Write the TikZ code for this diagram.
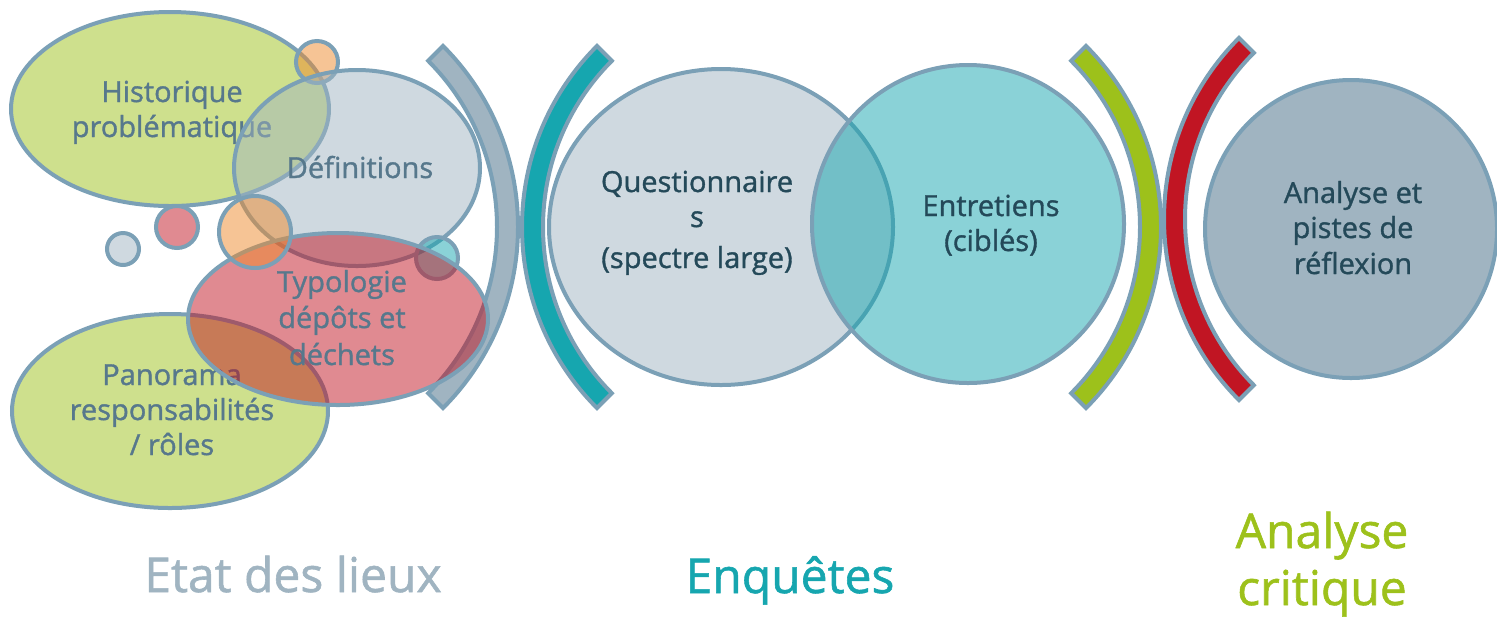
\documentclass[tikz,border=0pt]{standalone}
\usepackage{fontspec}
\setmainfont{Open Sans}[FakeBold=1.2]
\begin{document}
\definecolor{edge}{HTML}{7BA0B6}
\definecolor{slate}{HTML}{A0B4C1}
\definecolor{teal}{HTML}{16A6AF}
\definecolor{lime}{HTML}{9DC11B}
\definecolor{crimson}{HTML}{C11523}
\definecolor{peach}{HTML}{EE8A2C}
\definecolor{txtdark}{HTML}{244959}
\definecolor{txtsoft}{HTML}{57788C}
\begin{tikzpicture}[x=0.5pt,y=0.5pt,
  outl/.style={draw=edge,line width=2pt},
  band/.style={outl,line join=miter},
  see/.style={outl,fill opacity=0.5},
  txtbase/.style={anchor=base,inner sep=0pt,font=\fontsize{14.5}{17.5}\selectfont},
  soft/.style={txtbase,text=txtsoft},
  dark/.style={txtbase,text=txtdark},
  phasetitle/.style={anchor=base,inner sep=0pt,font=\fontsize{24}{28}\selectfont}]
\useasboundingbox (0,0) rectangle (1497,-618);

% curved separators
\draw[band,fill=slate,shift={(262,-227)}] (45:256) arc[start angle=45,end angle=-45,radius=256]
  -- (-45:235) arc[start angle=-45,end angle=45,radius=235] -- cycle;
\draw[band,fill=teal,shift={(778,-227)}] (135:256) arc[start angle=135,end angle=225,radius=256]
  -- (225:235) arc[start angle=225,end angle=135,radius=235] -- cycle;
\draw[band,fill=lime,shift={(905,-227)}] (45:256) arc[start angle=45,end angle=-45,radius=256]
  -- (-45:235) arc[start angle=-45,end angle=45,radius=235] -- cycle;
\draw[band,fill=crimson,shift={(1420,-219)}] (135:256) arc[start angle=135,end angle=225,radius=256]
  -- (225:235) arc[start angle=225,end angle=135,radius=235] -- cycle;

% state of the art cluster
\draw[see,fill=lime] (170,-109) ellipse[x radius=159,y radius=97];
\node[soft] (hist1) at (172,-102) {Historique};
\node[soft] (hist2) at (172,-137) {problématique};
\draw[see,fill=lime] (170,-411) ellipse[x radius=158,y radius=97];
\node[soft] (pano1) at (172,-385) {Panorama};
\node[soft] (pano2) at (172,-420) {responsabilités};
\node[soft] (pano3) at (172,-455) {/ rôles};
\draw[see,fill=peach] (317,-62) circle[radius=21];
\draw[see,fill=crimson] (177,-227) circle[radius=21];
\draw[see,fill=slate] (123,-249) circle[radius=16];
\draw[see,fill=slate] (357,-168) ellipse[x radius=123,y radius=98];
\node[soft] (defi) at (360,-178) {Définitions};
\draw[see,fill=teal] (437,-258) circle[radius=21];
\draw[see,fill=crimson] (338,-319) ellipse[x radius=150,y radius=86];
\node[soft] (typo1) at (342,-292) {Typologie};
\node[soft] (typo2) at (342,-328) {dépôts et};
\node[soft] (typo3) at (342,-365) {déchets};
\draw[see,fill=peach] (255,-232) circle[radius=36];

% surveys
\draw[see,fill=slate] (721,-227) ellipse[x radius=172,y radius=158];
\node[dark] (ques1) at (697,-192) {Questionnaire};
\node[dark] (ques2) at (697,-227) {s};
\node[dark] (ques3) at (697,-268) {(spectre large)};
\draw[see,fill=teal] (968,-224) ellipse[x radius=156,y radius=159];
\node[dark] (entr1) at (991,-216) {Entretiens};
\node[dark] (entr2) at (991,-251) {(ciblés)};

% analysis
\draw[outl,fill=slate] (1351,-229) ellipse[x radius=146,y radius=149];
\node[dark] (anal1) at (1353,-203) {Analyse et};
\node[dark] (anal2) at (1353,-238) {pistes de};
\node[dark] (anal3) at (1353,-274) {réflexion};

% phase titles
\node[phasetitle,text=slate] (phase1) at (293,-592) {Etat des lieux};
\node[phasetitle,text=teal] (phase2) at (790,-593) {Enquêtes};
\node[phasetitle,text=lime] (phase3a) at (1322,-548) {Analyse};
\node[phasetitle,text=lime] (phase3b) at (1322,-605) {critique};
\end{tikzpicture}
\end{document}
